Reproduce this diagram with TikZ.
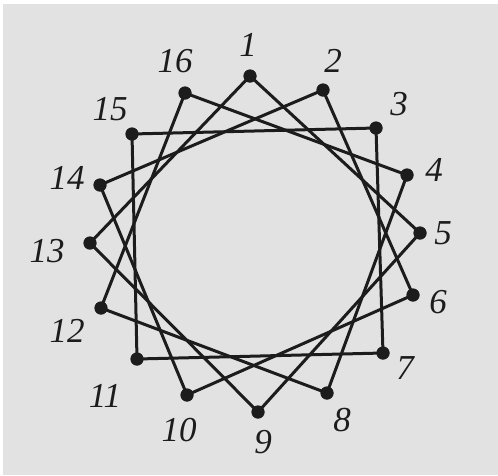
\documentclass[tikz,border=0pt]{standalone}
\usepackage{fontspec}
\setmainfont{Liberation Serif}
\definecolor{bg}{RGB}{226,226,226}
\definecolor{ink}{RGB}{28,28,28}
\begin{document}
\begin{tikzpicture}[x=1pt,y=-1pt,
  dot/.style={circle,fill=ink,inner sep=0pt,minimum size=13pt},
  lbl/.style={font=\fontsize{35}{35}\selectfont\itshape,text=ink,inner sep=0pt},
  edge/.style={draw=ink,line width=3pt,line join=miter}]
\useasboundingbox (0,0) rectangle (498,475);
\fill[white] (0,0) rectangle (498,475);
\fill[bg] (3,4) rectangle (498,475);
% points
\node[dot] (p1) at (250,76) {};
\node[dot] (p2) at (323,90) {};
\node[dot] (p3) at (376,128) {};
\node[dot] (p4) at (407,175) {};
\node[dot] (p5) at (420,233) {};
\node[dot] (p6) at (413,295) {};
\node[dot] (p7) at (383,353) {};
\node[dot] (p8) at (327,393) {};
\node[dot] (p9) at (258,412) {};
\node[dot] (p10) at (187,395) {};
\node[dot] (p11) at (137,359) {};
\node[dot] (p12) at (101,308) {};
\node[dot] (p13) at (90,243) {};
\node[dot] (p14) at (100,185) {};
\node[dot] (p15) at (132,134) {};
\node[dot] (p16) at (185,93) {};
% squares
\path[edge] (p1.center) -- (p5.center) -- (p9.center) -- (p13.center) -- cycle;
\path[edge] (p2.center) -- (p6.center) -- (p10.center) -- (p14.center) -- cycle;
\path[edge] (p3.center) -- (p7.center) -- (p11.center) -- (p15.center) -- cycle;
\path[edge] (p4.center) -- (p8.center) -- (p12.center) -- (p16.center) -- cycle;
% labels
\node[lbl] (l1) at (248,45) {1};
\node[lbl] (l2) at (333,61) {2};
\node[lbl] (l3) at (399,104) {3};
\node[lbl] (l4) at (434,170) {4};
\node[lbl] (l5) at (443,233) {5};
\node[lbl] (l6) at (438,302) {6};
\node[lbl] (l7) at (405,368) {7};
\node[lbl] (l8) at (342,420) {8};
\node[lbl] (l9) at (263,442) {9};
\node[lbl] (l10) at (179,430) {10};
\node[lbl] (l11) at (105,396) {11};
\node[lbl] (l12) at (67,331) {12};
\node[lbl] (l13) at (47,251) {13};
\node[lbl] (l14) at (67,178) {14};
\node[lbl] (l15) at (110,109) {15};
\node[lbl] (l16) at (175,61) {16};
% dots on top
\foreach \i in {1,...,16} {\fill[ink] (p\i.center) circle (6.5pt);}
\end{tikzpicture}
\end{document}
